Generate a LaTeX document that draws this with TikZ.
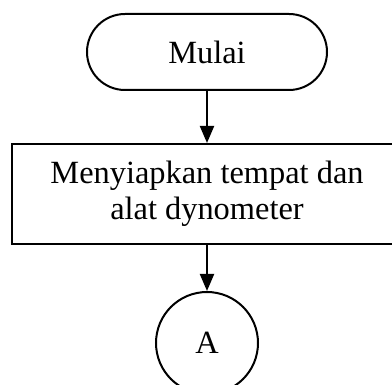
\documentclass[tikz,border=0pt]{standalone}
\usepackage{fontspec}
\setmainfont{Liberation Serif}
\usetikzlibrary{arrows.meta, shapes.misc}

\begin{document}
\begin{tikzpicture}
[x=1pt, y=-1pt, line width=2pt,
 font=\fontsize{32.4}{36}\selectfont,
 terminal/.style={draw, rounded rectangle, minimum width=240pt, minimum height=76pt, inner sep=0pt},
 process/.style={draw, rectangle, minimum width=390pt, minimum height=100pt, align=center, inner sep=0pt},
 connector/.style={draw, circle, minimum size=102pt, inner sep=0pt},
 flow/.style={-{Triangle[length=17pt,width=14pt]}}]
\useasboundingbox (0,0) rectangle (392,385);
\clip (0,0) rectangle (392,385);
\node [terminal] (mulai) at (207,52) {Mulai};
\node [process] (siap) at (207,194) {Menyiapkan tempat dan\\alat dynometer};
\node [connector] (a) at (207,343) {A};
\draw [flow] (mulai) -- (siap);
\draw [flow] (siap) -- (a);
\end{tikzpicture}
\end{document}
